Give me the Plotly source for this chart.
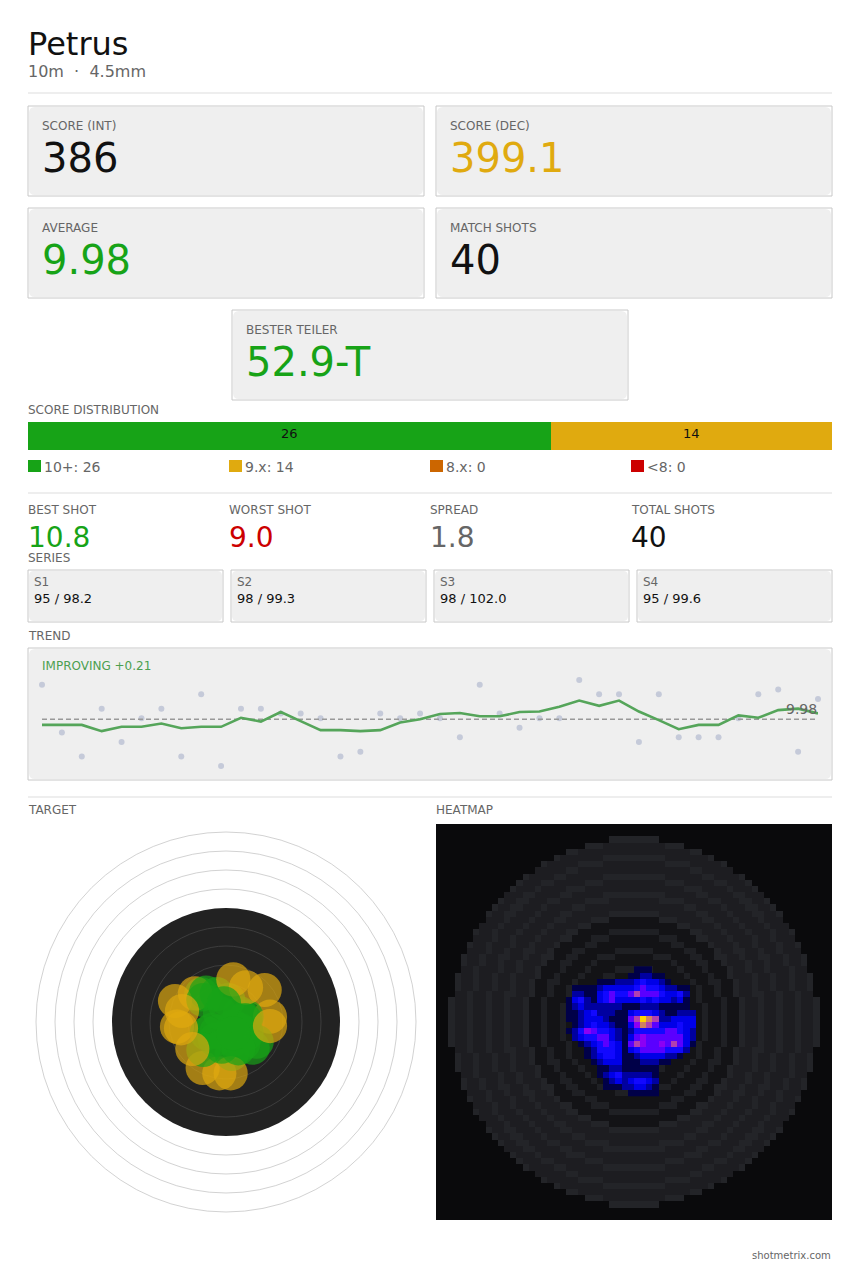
import plotly.graph_objects as go

W, H = 860, 1270
FONT = "DejaVu Sans"
GREEN, GOLD, ORANGE, RED = "#17a317", "#e0aa0f", "#cc6600", "#cc0000"
DARK, GREY = "#111111", "#666666"

###### DATA #####
shot_scores = [10.7, 9.7, 9.2, 10.2, 9.5, 10.0, 10.2, 9.2, 10.5, 9.0,
               10.2, 10.2, 10.1, 10.1, 10.0, 9.2, 9.3, 10.1, 10.0, 10.1,
               10.0, 9.6, 10.7, 10.1, 9.8, 10.0, 10.0, 10.8, 10.5, 10.5,
               9.5, 10.5, 9.6, 9.6, 9.6, 10.0, 10.5, 10.6, 9.3, 10.4]
trend_values = [9.86, 9.86, 9.86, 9.73, 9.82, 9.82, 9.89, 9.79, 9.82, 9.82,
                10.01, 9.93, 10.13, 9.94, 9.75, 9.75, 9.73, 9.75, 9.91, 9.98,
                10.09, 10.11, 10.04, 10.04, 10.13, 10.14, 10.24, 10.37, 10.26, 10.37,
                10.14, 9.96, 9.77, 9.86, 9.86, 10.06, 10.01, 10.17, 10.20, 10.10]
average = 9.98
trend_note = "IMPROVING +0.21"

# shot centres on the target, mm from the middle, in shot order
shot_x = [-3.25, -4.08, -6.45, -2.63, -6.71, -1.23, 0.31, 5.09, 1.84, 5.79,
          2.72, -2.54, 0.96, 1.84, 2.72, -3.07, -0.88, 4.04, 3.51, 2.28,
          0.75, 0.96, 0.96, -1.23, 0.61, -1.89, -1.45, -2.98, -0.57, -2.98,
          2.63, 2.50, -5.92, 5.79, -5.79, -0.79, -0.26, 1.62, -4.43, 0.96]
shot_y = [3.64, 3.77, -0.61, 3.86, 2.76, 3.68, 2.89, 4.21, 1.14, 0.70,
          0.70, -1.49, -0.61, -1.05, -1.49, -6.05, -6.75, -2.59, -3.38, -2.81,
          -4.21, 5.61, -2.37, -1.27, -6.75, -1.05, -2.37, -3.68, -3.25, 2.89,
          4.56, 0.26, -0.83, -0.53, 1.45, 1.14, 2.46, -3.46, -3.55, -1.49]
ring_radii = [25, 22.5, 20, 17.5, 15, 12.5, 10, 7.5, 5]
shot_diameter = 4.5

dist_labels = ["10+", "9.x", "8.x", "<8"]
dist_counts = [26, 14, 0, 0]
dist_colors = [GREEN, GOLD, ORANGE, RED]

top_cards = [("SCORE (INT)", "386", DARK), ("SCORE (DEC)", "399.1", GOLD),
             ("AVERAGE", "9.98", GREEN), ("MATCH SHOTS", "40", DARK),
             ("BESTER TEILER", "52.9-T", GREEN)]
stats = [("BEST SHOT", "10.8", GREEN), ("WORST SHOT", "9.0", RED),
         ("SPREAD", "1.8", GREY), ("TOTAL SHOTS", "40", DARK)]
series_names = ["S1", "S2", "S3", "S4"]
series_text = ["95 / 98.2", "98 / 99.3", "98 / 102.0", "95 / 99.6"]

# heatmap backdrop, top left quarter: . outside, d dark, e dark ring, a mid, b light
bg_rows = [
    "................................",
    "................................",
    "............................bbbb",
    "........................bbbaaaaa",
    ".....................bbaaaaaaaaa",
    "...................baaaaaaabbbbb",
    ".................baaaaabbbbaaaaa",
    "................aaaaabbaaaaaaaaa",
    "..............baaaabbaaaaaabbbbb",
    ".............baaabbaaaaabbbaaaaa",
    "............baaabaaaabbbaaaaaaaa",
    "...........aaabbaaaabbaaaaabbbbb",
    "..........baabbaaabbaaaabbbbaaaa",
    ".........baabbaaabaaaabbaaaaaaaa",
    "........baabbaaabaaabbaaaaaabbbb",
    "........aaabaaabaaabbaaaabbbdddd",
    ".......aaabaaabaaabaaaabbddddddd",
    "......baabaaabaaabaaabbdddddeeee",
    "......aaabaabaaabaaabbdddeeedddd",
    ".....baabaaabaabaaabddddeedddddd",
    ".....aaabaabaabbaabdddeedddddeee",
    "....baabaabbaabaabbddeedddeeeddd",
    "....baabaabaabaaabddeedddedddddd",
    "....aabaaabaabaabdddedddeddddeee",
    "...baabaabaabaaabddedddedddeeddd",
    "...baabaabaabaabddeeddedddeddddd",
    "...baabaabaabaabddeddedddeddddee",
    "...aabaabaabbaabddeddeddedddeedd",
    "..baabaabaabaabddedddeddeddedddd",
    "..baabaabaabaabddeddeddedddedddd",
    "..baabaabaabaabddeddeddeddeddddd",
    "..baabaabaabaabddeddeddeddeddddd",
]
# heat over the backdrop, columns 21-42, rows 23-43
blob_first_col, blob_first_row = 21, 23
blob_rows = [
    "...........111........",
    "..........112211......",
    ".....111222343321.....",
    ".1111233333454432211..",
    ".2211345445755543342..",
    "13421345333343433231..",
    "12322222211122211111..",
    "112342221134443211222.",
    "112333211157987223333.",
    ".12343321136875333433.",
    "124654432124444455432.",
    ".23445532135655555532.",
    "..1234543157655657531.",
    "...12444313455554442..",
    "...1234431123333221...",
    "....1233311122211.....",
    ".....1122111111.......",
    ".....1234222221.......",
    "......123234432.......",
    "......111223321.......",
    "..........11111.......",
]
###### DATA #####


def px(x):
    return x / W


def py(y):
    return 1 - y / H


shapes, notes = [], []


def text(x, y, s, size, color=GREY, anchor="left"):
    shift = -1 if anchor == "left" else 1
    notes.append(dict(x=px(x + shift), y=py(y), xref="paper", yref="paper", text=s, showarrow=False,
                      xanchor=anchor, yanchor="middle", borderpad=0,
                      font=dict(family=FONT, size=size, color=color)))


def rect(x0, y0, x1, y1, **kw):
    shapes.append(dict(type="rect", xref="paper", yref="paper", layer="below",
                       x0=px(x0), x1=px(x1), y0=py(y0), y1=py(y1), **kw))


def card(x0, y0, x1, y1, r=6):
    rect(x0, y0, x1, y1, line=dict(color="#c8c8c8", width=1), fillcolor="white")
    a, b, c, d = px(x0 + 1), px(x1 - 1), py(y0 + 1), py(y1 - 1)
    rx, ry = r / W, r / H
    path = (f"M {a + rx} {c} L {b - rx} {c} Q {b} {c} {b} {c - ry} L {b} {d + ry} "
            f"Q {b} {d} {b - rx} {d} L {a + rx} {d} Q {a} {d} {a} {d + ry} "
            f"L {a} {c - ry} Q {a} {c} {a + rx} {c} Z")
    shapes.append(dict(type="path", xref="paper", yref="paper", layer="below", path=path,
                       fillcolor="#efefef", line=dict(width=0)))


def divider(y):
    rect(28, y - 1, 832, y + 1, fillcolor="#eeeeee", line=dict(width=0))


text(28, 44, "Petrus", 32, DARK)
text(28, 72, "10m\u00a0\u00a0·\u00a0\u00a04.5mm", 16)
divider(93)

card_boxes = [(28, 106), (436, 106), (28, 208), (436, 208), (232, 310)]
for (cx, cy), (label, value, color) in zip(card_boxes, top_cards):
    card(cx, cy, cx + 396, cy + 90)
    text(cx + 14, cy + 20, label, 12)
    text(cx + 14, cy + 52, value, 40, color)

text(28, 410, "SCORE DISTRIBUTION", 12)
for i, (name, n, color) in enumerate(zip(dist_labels, dist_counts, dist_colors)):
    lx = 28 + 201 * i
    rect(lx, 460, lx + 13, 472, fillcolor=color, line=dict(width=0))
    text(lx + 16, 467, f"{name}: {n}", 14)
divider(493)

for i, (label, value, color) in enumerate(stats):
    lx = 28 + 201 * i
    text(lx, 510, label, 12)
    text(lx, 537, value, 28, color)

text(28, 558, "SERIES", 12)
for i, (name, s) in enumerate(zip(series_names, series_text)):
    lx = 28 + 203 * i
    card(lx, 570, lx + 195, 622, r=5)
    text(lx + 6, 582, name, 12)
    text(lx + 6, 599, s, 13, DARK)

text(28, 636, "TREND", 12)
card(28, 648, 832, 780)
text(42, 666, trend_note, 12, "#4c9f50")
text(817, 709, f"{average:.2f}", 14, GREY, "right")
divider(797)

text(28, 810, "TARGET", 12)
text(436, 810, "HEATMAP", 12)
text(831, 1255, "shotmetrix.com", 10, GREY, "right")

fig = go.Figure()

# trend panel
shot_no = list(range(1, len(shot_scores) + 1))
fig.add_trace(go.Scatter(x=shot_no, y=shot_scores, mode="markers", cliponaxis=False,
                         marker=dict(size=6, color="#c5cad9")))
fig.add_trace(go.Scatter(x=[shot_no[0], shot_no[-1]], y=[average, average], mode="lines",
                         line=dict(color="#999999", width=1.5, dash="5px,3px")))
fig.add_trace(go.Scatter(x=shot_no, y=trend_values, mode="lines",
                         line=dict(color="#55a55a", width=2.6)))

# distribution bar, counts sit a little above the middle of the bar
running = 0
for n, color in zip(dist_counts, dist_colors):
    if n:
        fig.add_trace(go.Bar(x=[n], y=[0], orientation="h", xaxis="x2", yaxis="y2", width=1,
                             marker=dict(color=color, line=dict(width=0))))
        notes.append(dict(x=running + n / 2, y=0.1, xref="x2", yref="y2", text=str(n), showarrow=False,
                          font=dict(family=FONT, size=13, color=DARK)))
        running += n

# target
for r in ring_radii:
    if r == 15:
        shapes.append(dict(type="circle", xref="x3", yref="y3", layer="below", x0=-r, x1=r, y0=-r, y1=r,
                           fillcolor="#222222", line=dict(width=0)))
    elif r > 15:
        shapes.append(dict(type="circle", xref="x3", yref="y3", layer="below", x0=-r, x1=r, y0=-r, y1=r,
                           line=dict(color="#b4b4b4", width=0.6)))
    else:
        shapes.append(dict(type="circle", xref="x3", yref="y3", layer="below", x0=-r, x1=r, y0=-r, y1=r,
                           line=dict(color="#444444", width=0.8)))
target_half = 198 / 7.6
shot_colors = [GREEN if s >= 10 else GOLD for s in shot_scores]
fig.add_trace(go.Scatter(x=shot_x, y=shot_y, mode="markers", xaxis="x3", yaxis="y3", cliponaxis=False,
                         marker=dict(size=shot_diameter * 7.6, color=shot_colors, opacity=0.68,
                                     line=dict(width=0))))

# heatmap
levels = {".": 0, "d": 1, "e": 2, "a": 3, "b": 4}
top = [[levels[c] for c in row + row[::-1]] for row in bg_rows]
fig.add_trace(go.Heatmap(z=top + top[::-1], xaxis="x4", yaxis="y4", showscale=False, zmin=0, zmax=4,
                         colorscale=[[0, "#0a0a0c"], [0.25, "#131316"], [0.5, "#1f2024"],
                                     [0.75, "#1d1d21"], [1, "#232428"]]))
blob_z = [[int(c) if c != "." else None for c in row] for row in blob_rows]
fig.add_trace(go.Heatmap(z=blob_z, xaxis="x4", yaxis="y4", showscale=False, zmin=1, zmax=9,
                         x=list(range(blob_first_col, blob_first_col + len(blob_rows[0]))),
                         y=list(range(blob_first_row, blob_first_row + len(blob_rows))),
                         colorscale=[[0, "#000048"], [0.125, "#0000a0"], [0.25, "#0000e8"],
                                     [0.375, "#1208ff"], [0.5, "#5a00ff"], [0.625, "#8c00f4"],
                                     [0.75, "#b040b0"], [0.875, "#d08060"], [1, "#ffd000"]]))


def hidden(x0=None, x1=None, y0=None, y1=None, **kw):
    dom = [px(x0), px(x1)] if x0 is not None else [py(y1), py(y0)]
    return dict(domain=dom, visible=False, fixedrange=True, **kw)


fig.update_layout(
    width=W, height=H, margin=dict(l=0, r=0, t=0, b=0), autosize=False,
    paper_bgcolor="white", plot_bgcolor="rgba(0,0,0,0)",
    showlegend=False, barmode="stack", bargap=0, hovermode=False,
    font=dict(family=FONT),
    shapes=shapes, annotations=notes,
    xaxis=hidden(x0=42, x1=818, range=[1, 40]),
    yaxis=hidden(y0=650, y1=778, range=[9 - 12 / 47.8, 10.8 + 30 / 47.8]),
    xaxis2=hidden(x0=28, x1=832, range=[0, sum(dist_counts)], anchor="y2"),
    yaxis2=hidden(y0=422, y1=450, range=[-0.5, 0.5], anchor="x2"),
    xaxis3=hidden(x0=28, x1=424, range=[-target_half, target_half], anchor="y3"),
    yaxis3=hidden(y0=824, y1=1220, range=[-target_half, target_half], anchor="x3"),
    xaxis4=hidden(x0=436, x1=832, range=[-0.5, 63.5], anchor="y4"),
    yaxis4=hidden(y0=824, y1=1220, range=[63.5, -0.5], anchor="x4"),
)

fig.write_html("out.html", config=dict(displayModeBar=False),
               post_script="document.body.style.margin='0';document.body.style.overflow='hidden';")
